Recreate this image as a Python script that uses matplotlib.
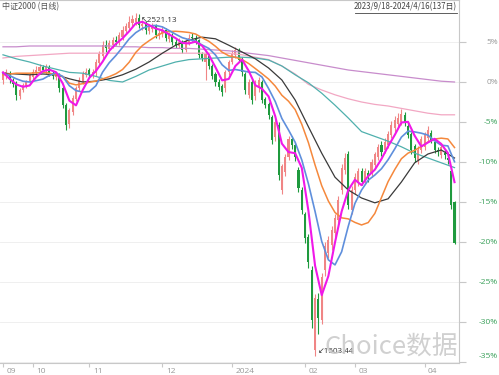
import matplotlib
matplotlib.use("Agg")
import matplotlib.pyplot as plt
import numpy as np

plt.rcParams["font.family"] = ["Noto Sans CJK SC", "DejaVu Sans"]

# daily candles, % change vs. base (137 trading days, 2023/9/18 - 2024/4/16)
opens = [0.2, 0.8, 1.1, 0.2, -0.2, -1.8, -1.0, -0.5, 0.0, 0.6,
         1.1, 1.4, 1.8, 1.4, 1.8, 1.1, 0.6, 0.9, -0.8, -2.9,
         -5.2, -3.8, -2.1, -0.8, 0.0, 0.9, 1.4, 0.9, 1.1, 2.4,
         3.2, 4.6, 4.1, 4.6, 5.2, 4.9, 5.6, 6.4, 6.8, 7.4,
         7.5, 8.0, 7.0, 7.2, 6.4, 6.6, 7.0, 5.8, 6.0, 6.5,
         5.4, 5.8, 5.0, 4.5, 5.0, 4.0, 4.9, 5.6, 5.5, 5.2,
         3.4, 2.5, 3.2, 2.0, 0.9, 0.0, -0.5, -0.8, 1.2, 2.5,
         3.4, 4.0, 2.8, 1.0, -1.6, -0.1, -1.8, -0.8, 0.0, -2.2,
         -2.8, -4.4, -6.9, -5.4, -13.5, -11.2, -9.4, -7.2, -7.9, -11.0,
         -13.5, -16.6, -19.4, -23.5, -33.5, -27.2, -29.8, -23.5, -21.4, -20.4,
         -18.9, -17.2, -13.5, -11.0, -9.1, -16.0, -13.5, -12.6, -11.2, -12.2,
         -11.4, -11.4, -10.4, -9.4, -7.9, -8.5, -7.9, -6.6, -5.8, -5.2,
         -5.0, -4.2, -5.5, -6.6, -8.1, -9.8, -8.5, -8.1, -7.0, -6.4,
         -7.6, -8.5, -9.1, -8.9, -9.5, -11.2, -15.0]
closes = [1.0, 1.2, 0.2, -0.2, -1.6, -1.0, -0.4, 0.0, 0.8, 1.2,
          1.5, 1.8, 1.5, 1.8, 1.1, 0.8, 0.9, -0.8, -2.9, -5.4,
          -3.5, -2.0, -0.8, 0.2, 1.0, 1.2, 1.0, 1.2, 2.5, 3.4,
          4.6, 4.2, 4.8, 5.2, 5.0, 5.8, 6.5, 6.9, 7.5, 7.8,
          8.0, 7.1, 7.2, 6.5, 6.8, 7.0, 5.9, 6.1, 6.5, 5.5,
          5.8, 5.0, 4.6, 5.0, 4.0, 5.0, 5.5, 5.5, 5.2, 3.4,
          3.0, 3.4, 2.0, 0.8, 0.0, -0.6, -1.2, 1.2, 2.5, 3.5,
          4.0, 2.8, 1.2, -1.0, 0.0, -2.2, 0.0, 0.2, -2.2, -2.9,
          -4.1, -7.2, -5.0, -11.6, -10.6, -9.4, -7.2, -7.9, -9.4, -13.2,
          -16.0, -19.5, -22.5, -29.8, -27.0, -29.5, -24.4, -20.6, -19.8, -18.5,
          -17.0, -14.8, -10.8, -9.5, -15.4, -13.5, -11.9, -11.2, -12.5, -11.2,
          -12.0, -10.0, -9.1, -8.2, -8.8, -7.5, -6.6, -5.4, -4.8, -4.5,
          -4.0, -5.0, -6.6, -8.5, -9.5, -8.5, -7.2, -6.6, -6.0, -7.2,
          -8.5, -8.8, -8.2, -9.1, -9.8, -15.4, -20.1]
highs = [1.4, 1.6, 1.4, 0.5, 0.1, -0.7, -0.1, 0.3, 1.1, 1.6,
         2.0, 2.3, 2.1, 2.2, 2.1, 1.4, 1.3, 1.1, -0.5, -2.6,
         -3.2, -1.6, -0.5, 0.6, 1.4, 1.7, 1.8, 1.6, 2.9, 3.9,
         5.1, 5.3, 5.3, 5.6, 5.8, 6.2, 7.0, 7.4, 8.2, 8.4,
         8.6, 8.5, 7.7, 7.6, 7.3, 7.4, 7.3, 6.6, 6.9, 6.8,
         6.2, 6.1, 5.4, 5.5, 5.3, 5.4, 6.0, 6.1, 5.9, 5.4,
         3.8, 3.8, 3.5, 2.3, 1.2, 0.4, -0.2, 1.5, 2.8, 4.0,
         4.4, 4.3, 3.1, 1.3, 0.4, 0.2, 0.3, 0.6, 0.3, -1.9,
         -2.5, -4.1, -4.6, -5.0, -10.2, -9.0, -6.8, -6.7, -7.5, -10.6,
         -13.1, -16.2, -19.0, -23.0, -26.5, -26.4, -23.9, -20.0, -19.2, -18.0,
         -16.5, -14.2, -10.3, -8.9, -8.6, -13.0, -11.4, -10.7, -10.8, -10.8,
         -11.0, -9.6, -8.7, -7.8, -7.4, -7.0, -6.1, -4.9, -4.3, -3.9,
         -3.4, -3.7, -5.0, -6.2, -7.7, -8.0, -6.8, -6.2, -5.5, -6.0,
         -7.2, -8.1, -7.8, -8.4, -9.0, -10.8, -14.9]
lows = [-0.3, 0.4, -0.1, -0.6, -2.2, -2.1, -1.3, -0.8, -0.2, 0.3,
        0.8, 1.1, 1.2, 1.0, 0.8, 0.4, 0.2, -1.2, -3.3, -6.0,
        -5.8, -4.1, -2.4, -1.1, -0.3, 0.6, 0.6, 0.5, 0.8, 2.1,
        2.9, 3.8, 3.8, 4.3, 4.6, 4.6, 5.3, 6.1, 6.5, 7.0,
        7.1, 6.8, 6.5, 6.0, 6.0, 6.3, 5.5, 5.4, 5.6, 5.1,
        5.0, 4.6, 4.2, 4.2, 3.6, 3.7, 4.6, 5.1, 4.8, 3.0,
        2.6, 0.2, 1.6, 0.4, -0.5, -1.0, -1.7, -1.2, 0.9, 2.2,
        3.0, 2.5, 0.8, -1.5, -2.0, -2.7, -2.3, -1.2, -2.6, -3.3,
        -4.6, -7.7, -7.4, -12.3, -14.0, -11.7, -9.8, -8.4, -9.9, -13.7,
        -16.5, -20.1, -23.2, -30.8, -34.2, -31.5, -30.3, -24.2, -22.0, -21.0,
        -19.4, -17.8, -14.0, -11.5, -15.9, -16.5, -14.0, -13.0, -12.9, -12.7,
        -12.5, -11.9, -10.8, -9.8, -9.2, -8.9, -8.3, -7.0, -6.2, -5.6,
        -5.4, -5.5, -7.0, -9.0, -10.0, -10.3, -8.9, -8.5, -7.4, -7.6,
        -8.9, -9.2, -9.5, -9.6, -10.3, -15.9, -20.2]

# fast moving averages, read every 2nd day
fast_idx = list(range(0, 137, 2))
ma5 = [1.2, 0.4, -0.3, -0.6, -0.44, 0.62, 1.36, 1.54, 1.22, -0.18,
       -2.34, -2.92, -1.02, 0.52, 1.38, 2.54, 3.9, 4.76, 5.46, 6.34,
       7.34, 7.52, 7.12, 6.68, 6.46, 5.96, 5.48, 4.88, 4.82, 5.04,
       4.52, 3.4, 1.84, 0.2, 0.38, 2.0, 2.8, 1.4, -0.4, -0.84,
       -1.8, -4.28, -7.7, -8.76, -8.9, -10.74, -16.12, -22.96, -26.64, -24.26,
       -20.06, -16.18, -13.5, -12.22, -12.9, -11.76, -10.96, -9.62, -8.04, -6.62,
       -5.06, -4.98, -6.72, -8.06, -7.56, -7.1, -7.74, -8.88, -12.52]
ma10 = [1.1, 0.8, 0.4, 0.1, 0.0, 0.17, 0.36, 0.83, 1.14, 0.69,
        -0.47, -1.08, -1.25, -1.2, -0.46, 1.23, 2.41, 3.31, 4.32, 5.39,
        6.17, 6.7, 7.01, 7.07, 6.89, 6.44, 5.97, 5.54, 5.3, 5.11,
        4.62, 4.2, 3.38, 2.15, 1.45, 1.56, 1.42, 1.24, 1.2, 0.63,
        -0.82, -2.44, -4.56, -6.0, -7.53, -9.75, -12.73, -16.19, -19.92, -22.23,
        -22.86, -21.22, -18.03, -15.18, -13.51, -12.28, -11.63, -10.84, -9.71, -8.36,
        -6.89, -6.14, -6.24, -6.4, -6.64, -7.36, -7.9, -7.99, -9.97]
ma20 = [0.9, 1.0, 1.1, 1.1, 1.1, 1.15, 1.25, 1.1, 0.9, 0.7,
        -0.15, -0.36, -0.21, -0.03, 0.12, 0.38, 0.67, 1.03, 1.56, 2.47,
        3.7, 4.56, 5.16, 5.7, 6.14, 6.31, 6.34, 6.28, 6.19, 6.0,
        5.53, 5.09, 4.46, 3.73, 3.28, 3.09, 2.81, 2.31, 1.68, 1.04,
        0.37, -0.51, -1.66, -2.4, -3.45, -5.29, -7.59, -10.38, -12.96, -14.88,
        -16.31, -16.98, -17.11, -17.55, -17.87, -17.57, -16.43, -14.44, -12.45, -10.94,
        -9.59, -8.89, -8.54, -8.06, -7.5, -7.13, -7.02, -7.12, -8.19]

# slow moving averages, read every 4th day
slow_idx = list(range(0, 137, 4))
ma30 = [1.1, 1.0, 0.9, 1.0, 0.9, 0.4, 0.0, 0.1, 0.4, 0.9,
        1.6, 2.5, 3.6, 4.6, 5.25, 5.6, 5.4, 4.6, 3.75, 2.9,
        1.75, 0.25, -2.25, -5.6, -8.9, -11.9, -13.5, -14.5, -15.1, -14.6,
        -12.5, -10.1, -9.0, -8.5, -9.5]
ma60 = [3.4, 2.9, 2.5, 2.0, 1.6, 1.2, 1.1, 0.7, 0.2, 0.0,
        0.7, 1.5, 2.0, 2.5, 2.8, 2.9, 3.0, 3.1, 3.1, 3.0,
        2.75, 2.0, 0.9, -0.1, -1.4, -2.9, -4.5, -6.2, -6.8, -7.4,
        -8.1, -8.9, -9.5, -10.1, -10.7]
ma120 = [3.0, 3.2, 3.3, 3.4, 3.5, 3.6, 3.6, 3.6, 3.6, 3.6,
         3.6, 3.6, 3.6, 3.6, 3.6, 3.6, 3.6, 3.6, 3.4, 3.1,
         2.8, 2.0, 1.0, -0.3, -1.0, -1.6, -2.1, -2.5, -2.8, -3.0,
         -3.3, -3.6, -3.9, -4.1, -4.1]
ma250 = [4.4, 4.4, 4.5, 4.5, 4.5, 4.5, 4.5, 4.5, 4.5, 4.4,
         4.4, 4.3, 4.3, 4.2, 4.2, 4.1, 4.0, 3.9, 3.7, 3.5,
         3.3, 3.0, 2.7, 2.4, 2.1, 1.8, 1.5, 1.3, 1.1, 0.9,
         0.7, 0.5, 0.3, 0.1, 0.0]

month_pos = [0, 9, 26, 48, 69, 91, 106, 127]
month_labels = ["09", "10", "11", "12", "2024", "02", "03", "04"]
pct_levels = [5, 0, -5, -10, -15, -20, -25, -30, -35]

fig = plt.figure(figsize=(4.99, 3.75), dpi=100)
ax = fig.add_axes([0.0, 12 / 375, 459 / 499, 363 / 375])
ax.set_xlim(-0.9, 137.35)
ax.set_ylim(-35.125, 10.25)

for lv in pct_levels:
    ax.axhline(lv, color="#ececec", lw=0.6, zorder=0)

x = np.arange(len(closes))
o = np.array(opens)
c = np.array(closes)
up = c >= o
col = np.where(up, "#f08585", "#1f9a3e")
ax.vlines(x, lows, highs, colors=col, lw=0.8, zorder=2)
ax.bar(x, np.abs(c - o) + 0.05, bottom=np.minimum(o, c), width=0.62,
       color=col, linewidth=0, zorder=3)

ma_lines = [
    (slow_idx, ma250, "#c88ccc", 0.9),
    (slow_idx, ma120, "#f2a7c3", 0.9),
    (slow_idx, ma60, "#4fb0ad", 0.9),
    (slow_idx, ma30, "#3a3a3a", 0.9),
    (fast_idx, ma20, "#f5883c", 1.1),
    (fast_idx, ma10, "#5f8fdc", 1.2),
    (fast_idx, ma5, "#f018e8", 1.5),
]
for idx, vals, color, lw in ma_lines:
    ax.plot(idx, vals, color=color, lw=lw, zorder=4)

# extreme annotations
ax.annotate("↖2521.13", xy=(40, highs[40]), xytext=(4, -5),
            textcoords="offset points", fontsize=5.8, color="#333333",
            va="center", ha="left", family=["Open Sans", "DejaVu Sans"])
ax.annotate("↙1503.44", xy=(94, lows[94]), xytext=(2, 3),
            textcoords="offset points", fontsize=5.8, color="#333333",
            va="center", ha="left", family=["Open Sans", "DejaVu Sans"])

# axes styling
for side in ["left", "top", "right", "bottom"]:
    ax.spines[side].set_color("#c8c8c8")
    ax.spines[side].set_linewidth(0.8)
ax.spines["left"].set_visible(False)
ax.yaxis.tick_right()
ax.set_yticks(pct_levels)
ax.set_yticklabels([])
ax.tick_params(axis="y", length=5, color="#c8c8c8", width=0.8)
ax.set_xticks(month_pos)
ax.set_xticklabels([])
ax.tick_params(axis="x", length=3, color="#c8c8c8", width=0.8)

for lv in pct_levels:
    color = "#999999" if lv >= 0 else "#3aa05a"
    dy = 4 if lv == -35 else 0
    ax.annotate(f"{lv}%", xy=(1, lv), xycoords=("axes fraction", "data"),
                xytext=(28, dy), textcoords="offset points", ha="right",
                va="center", fontsize=6.0, color=color,
                family=["Open Sans", "DejaVu Sans"])

for pos, lab in zip(month_pos, month_labels):
    ax.annotate(lab, xy=(pos, 0), xycoords=("data", "axes fraction"),
                xytext=(2.5, -6), textcoords="offset points", ha="left",
                va="center", fontsize=6.0, color="#999999",
                family=["Open Sans", "DejaVu Sans"])

# header texts
fig.text(2 / 499, 1 - 7 / 375, "中证2000 (日线)", fontsize=5.8,
         color="#555555", va="center", ha="left")
fig.text(457 / 499, 1 - 7 / 375, "2023/9/18-2024/4/16(137日)", fontsize=5.7,
         color="#444444", va="center", ha="right")
fig.add_artist(plt.Line2D([355 / 499, 457 / 499], [1 - 13 / 375, 1 - 13 / 375],
                          color="#444444", lw=0.6))

# watermark
fig.text(325 / 499, 1 - 361 / 375, "Choice数据", fontsize=18.5,
         color="#c8c8c8", alpha=0.85, va="bottom", ha="left")

fig.savefig("out.png", dpi=100)
